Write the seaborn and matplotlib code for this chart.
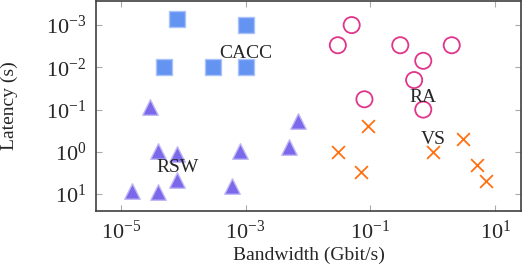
import matplotlib
matplotlib.use("Agg")
import matplotlib.pyplot as plt
import seaborn as sns

# values (log-log, latency axis inverted)
cacc_bw = [8e-5, 1e-3, 5e-5, 3e-4, 1e-3]
cacc_lat = [7e-4, 1e-3, 1e-2, 1e-2, 1e-2]

rsw_bw = [3e-5, 4e-5, 8e-5, 1.5e-5, 4e-5, 8e-5, 6e-4, 8e-4, 5e-3, 7e-3]
rsw_lat = [0.085, 0.95, 1.1, 8.3, 9.0, 4.6, 6.5, 0.95, 0.76, 0.19]

ra_bw = [0.05, 0.03, 0.3, 2.0, 0.7, 0.5, 0.08, 0.7]
ra_lat = [1e-3, 3e-3, 3e-3, 3e-3, 7e-3, 0.02, 0.057, 0.1]

vs_bw = [0.09, 0.03, 0.07, 1.0, 3.0, 5.0, 7.0]
vs_lat = [0.25, 1.0, 3.0, 1.0, 0.5, 2.0, 5.0]

labels = ["CACC", "RSW", "RA", "VS"]
label_pos = [(1e-3, 4.7e-3), (8e-5, 2.3), (0.7, 0.052), (1.0, 0.52)]

sns.set_theme(style="ticks")
plt.rcParams["font.family"] = ["Liberation Serif", "DejaVu Serif"]
plt.rcParams["mathtext.fontset"] = "cm"

fig = plt.figure(figsize=(5.22, 2.74), dpi=100)
ax = fig.add_axes([96 / 522, 1 - 211 / 274, 425 / 522, 210 / 274])

sns.scatterplot(x=cacc_bw, y=cacc_lat, marker="s", s=120, color="#6593f2",
                edgecolor="#a9c3f8", linewidth=1.0, ax=ax, zorder=3)
sns.scatterplot(x=rsw_bw, y=rsw_lat, marker="^", s=125, color="#7b68ea",
                edgecolor="#c0b8f6", linewidth=1.0, ax=ax, zorder=3)
sns.scatterplot(x=ra_bw, y=ra_lat, marker="o", s=135, facecolor="none",
                edgecolor="#e0358a", linewidth=1.3, ax=ax, zorder=3)
sns.scatterplot(x=vs_bw, y=vs_lat, marker="x", s=85, color="#ff7010",
                linewidth=1.3, ax=ax, zorder=3)

for name, (lx, ly) in zip(labels, label_pos):
    ax.text(lx, ly, name, fontsize=14, ha="center", va="center", zorder=4)

ax.set_xscale("log")
ax.set_yscale("log")
ax.set_xlim(10 ** -5.395, 10 ** 1.41)
ax.set_ylim(10 ** 1.40, 10 ** -3.57)
ax.set_xticks([1e-5, 1e-3, 1e-1, 1e1])
ax.set_yticks([1e-3, 1e-2, 1e-1, 1e0, 1e1])
ax.minorticks_off()

ax.tick_params(direction="in", length=4, width=0.8, color="#aaaaaa",
               top=True, right=True, labelsize=16, pad=7)
for sp in ax.spines.values():
    sp.set_color("#404040")
    sp.set_linewidth(1.2)

ax.set_xlabel("Bandwidth (Gbit/s)", fontsize=14)
ax.set_ylabel("Latency (s)", fontsize=14)
ax.xaxis.set_label_coords(0.5, -0.17)
ax.yaxis.set_label_coords(-0.184, 0.5)

fig.savefig("out.png", dpi=100)
